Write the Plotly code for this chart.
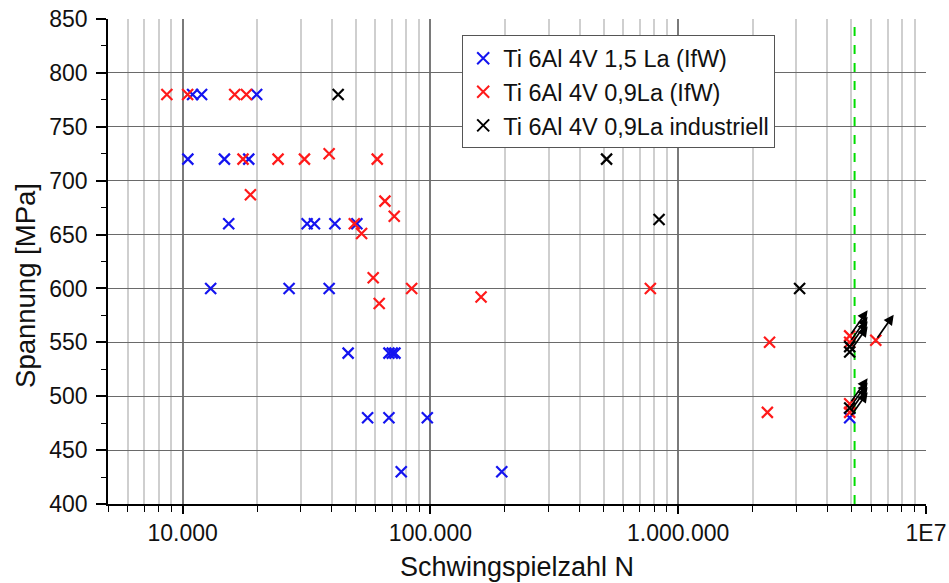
import numpy as np
import plotly.graph_objects as go

# Wöhler data: cycles to failure N and stress amplitude [MPa]
blue_N = [10975, 11930, 19900, 10500, 14750, 18490, 15350, 31800, 34050, 41170,
          50500, 12980, 26900, 39030, 46560, 68030, 70150, 71940, 55800, 68030,
          97160, 76270, 194100]
blue_S = [780, 780, 780, 720, 720, 720, 660, 660, 660, 660,
          660, 600, 600, 600, 540, 540, 540, 540, 480, 480,
          480, 430, 430]

red_N = [8640, 10480, 16230, 18090, 17530, 24280, 31030, 61020, 39030, 18780,
         65540, 71470, 49300, 52770, 58780, 84030, 62150, 160100, 772000,
         2337000, 2290000]
red_S = [780, 780, 780, 780, 720, 720, 720, 720, 725, 687,
         681, 667, 660, 651, 610, 600, 586, 592, 600,
         550, 485]

black_N = [42440, 514000, 837000, 3090000]
black_S = [780, 720, 664, 600]

# Run-outs (no failure), marked with an arrow
blue_run_N = [4920000]
blue_run_S = [480]
red_run_N = [4920000, 4920000, 4920000, 4920000, 6270000]
red_run_S = [556, 550, 493, 485, 552]
black_run_N = [4920000, 4920000, 4920000]
black_run_S = [546, 541, 489]

limit_N = 5150000  # test limit

series = [
    ("Ti 6Al 4V 1,5 La (IfW)", "#1414f0", blue_N + blue_run_N, blue_S + blue_run_S),
    ("Ti 6Al 4V 0,9La (IfW)", "#ff1a1a", red_N + red_run_N, red_S + red_run_S),
    ("Ti 6Al 4V 0,9La industriell", "#000000", black_N + black_run_N, black_S + black_run_S),
]

fig = go.Figure()

fig.add_trace(go.Scatter(
    x=[limit_N, limit_N], y=[400, 850], mode="lines",
    line=dict(color="#00dd00", width=2, dash="dash"),
    showlegend=False, hoverinfo="skip"))

for name, color, xs, ys in series:
    fig.add_trace(go.Scatter(
        x=xs, y=ys, mode="markers", name=name,
        marker=dict(symbol="x-thin", size=11, color=color,
                    line=dict(color=color, width=2.2))))

font = "Liberation Sans, Arial, sans-serif"

annotations = []
for xs, ys in [(blue_run_N, blue_run_S), (red_run_N, red_run_S), (black_run_N, black_run_S)]:
    for n, s in zip(xs, ys):
        annotations.append(dict(
            x=np.log10(n), y=s, xref="x", yref="y", text="",
            showarrow=True, arrowside="start",
            startarrowhead=2, startarrowsize=1.2,
            arrowwidth=1.7, arrowcolor="#000000",
            ax=19, ay=-27, axref="pixel", ayref="pixel", standoff=3))

# y-axis title, sitting a little below the axis centre
annotations.append(dict(
    text="Spannung [MPa]", textangle=-90, xref="paper", yref="paper",
    x=-0.1, y=0.45, xanchor="center", yanchor="middle", showarrow=False,
    font=dict(size=27.5, family=font, color="#111111")))

minor_vals = [k * 10 ** d for d in range(3, 7) for k in range(2, 10)
              if 5000 <= k * 10 ** d <= 1e7]

fig.update_layout(
    width=949, height=583,
    margin=dict(l=108, r=23, t=19, b=79),
    paper_bgcolor="white", plot_bgcolor="white",
    font=dict(family=font, color="#111111"),
    annotations=annotations,
    showlegend=True,
    legend=dict(
        x=0.433, y=0.966, xanchor="left", yanchor="top",
        bgcolor="white", bordercolor="#555555", borderwidth=1,
        font=dict(size=23.5, family=font, color="#111111"),
        tracegroupgap=0, itemsizing="constant"),
    xaxis=dict(
        type="log", range=[np.log10(5000), 7], automargin=False,
        tickvals=[1e4, 1e5, 1e6, 1e7],
        ticktext=["10.000", "100.000", "1.000.000", "1E7"],
        ticks="outside", ticklen=8, tickwidth=1.5, tickcolor="#000",
        showline=True, linecolor="#000", linewidth=1.5,
        showgrid=True, gridcolor="#7a7a7a", gridwidth=1.5,
        zeroline=False,
        tickfont=dict(size=23, family=font, color="#111111"),
        minor=dict(tickvals=minor_vals, ticks="outside", ticklen=6,
                   tickcolor="#000", tickwidth=1.2,
                   showgrid=True, gridcolor="#cfcfcf", gridwidth=1.5),
        title=dict(text="Schwingspielzahl N", standoff=12,
                   font=dict(size=27, family=font, color="#111111")),
    ),
    yaxis=dict(
        range=[400, 850], dtick=50, tick0=400, automargin=False,
        ticks="outside", ticklen=10, tickwidth=1.5, tickcolor="#000",
        showline=True, linecolor="#000", linewidth=1.5,
        showgrid=True, gridcolor="#6a6a6a", gridwidth=1.3,
        zeroline=False,
        tickfont=dict(size=23, family=font, color="#111111"),
        ticklabelstandoff=4,
        minor=dict(dtick=25, ticks="outside", ticklen=5,
                   tickcolor="#000", tickwidth=1.2, showgrid=False),
    ),
)

fig.write_html("out.html")
